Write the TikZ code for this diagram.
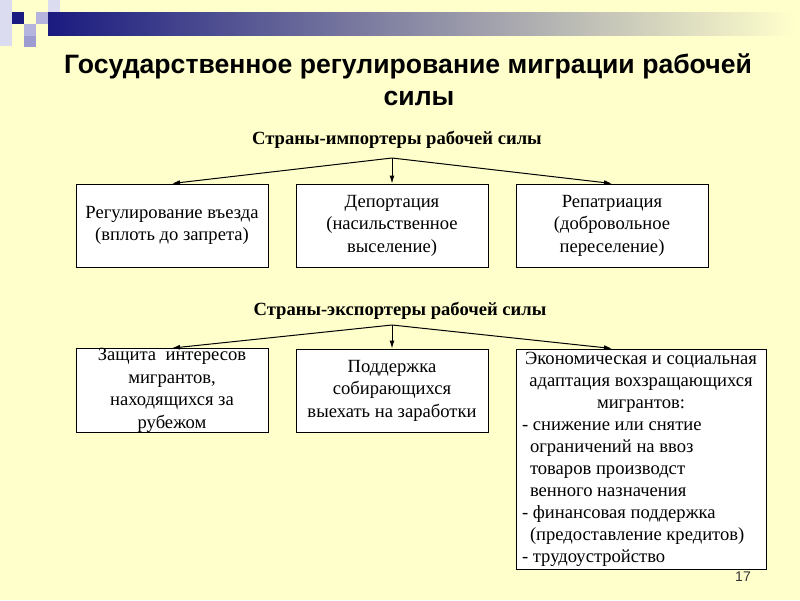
\documentclass[tikz,border=0pt]{standalone}
\usepackage{fontspec}
\setmainfont{Liberation Serif}
\newfontfamily\titlefont{Liberation Sans}
\usetikzlibrary{arrows.meta}
\definecolor{bg}{HTML}{FFFFCC}
\definecolor{navy}{HTML}{1A1A80}
\definecolor{lav}{HTML}{DCDCF0}
\definecolor{lavm}{HTML}{B4B4DE}
\definecolor{lavd}{HTML}{9C9CD0}
\definecolor{pnum}{HTML}{333333}
\tikzset{
  box/.style={draw=black, line width=1pt, fill=white, minimum width=192pt, minimum height=83pt,
    align=center, inner sep=0pt, font=\fontsize{18.6}{22.5}\selectfont},
  hdr/.style={font=\fontsize{18.6}{20}\selectfont\bfseries, inner sep=0pt},
  ttl/.style={font=\titlefont\fontsize{26.6}{30}\selectfont\bfseries, inner sep=0pt},
  arr/.style={line width=1pt, -{Latex[length=8pt,width=5pt]}},
}
\begin{document}
\begin{tikzpicture}[x=1pt,y=-1pt]
\useasboundingbox (0,0) rectangle (800,600);
\fill[bg] (0,0) rectangle (800,600);
% decorative squares
\fill[lav] (0,0) rectangle (12,46);
\fill[lav] (48,0) rectangle (60,12);
\fill[navy] (12,12) rectangle (24,24);
\fill[lavm] (36,12) rectangle (48,24);
\fill[lavm] (24,24) rectangle (36,36);
\fill[lavd] (24,36) rectangle (36,47);
% top bar
\shade[left color=navy, right color=bg] (48,12) rectangle (795,35);
% title
\node[ttl] (t1) at (408,66) {Государственное регулирование миграции рабочей};
\node[ttl] (t2) at (419,98) {силы};
% importers
\node[hdr] (imp) at (397,140) {Страны-импортеры рабочей силы};
\coordinate (a1) at (392,158);
\node[box] (b1) at (172,225.5) {Регулирование въезда\\(вплоть до запрета)};
\node[box] (b2) at (392,225.5) {Депортация\\(насильственное\\выселение)};
\node[box] (b3) at (612,225.5) {Репатриация\\(добровольное\\переселение)};
\draw[arr] (a1) -- (b1.north);
\draw[arr] (a1) -- (b2.north);
\draw[arr] (a1) -- (b3.north);
% exporters
\node[hdr] (exp) at (400,311) {Страны-экспортеры рабочей силы};
\coordinate (a2) at (392,325);
\node[box] (b4) at (172,390.5) {Защита\ \ интересов\\мигрантов,\\находящихся за\\рубежом};
\node[box] (b5) at (392,390.5) {Поддержка\\собирающихся\\выехать на заработки};
\node[box, minimum width=250pt, minimum height=220pt] (b6) at (641,459) {%
\begin{minipage}{238pt}\fontsize{18.6}{22}\selectfont
\centering Экономическая и социальная\\адаптация вохзращающихся\\мигрантов:\par
\raggedright - снижение или снятие\\
\hspace*{8pt}ограничений на ввоз\\
\hspace*{8pt}товаров производст\\
\hspace*{8pt}венного назначения\\
- финансовая поддержка\\
\hspace*{8pt}(предоставление кредитов)\\
- трудоустройство\par
\end{minipage}};
\draw[arr] (a2) -- (b4.north);
\draw[arr] (a2) -- (b5.north);
\draw[arr] (a2) -- (b6.north -| b3.north);
\node[font=\titlefont\fontsize{14}{16}\selectfont, text=pnum, inner sep=0pt] (pg) at (743,577) {17};
\end{tikzpicture}
\end{document}
